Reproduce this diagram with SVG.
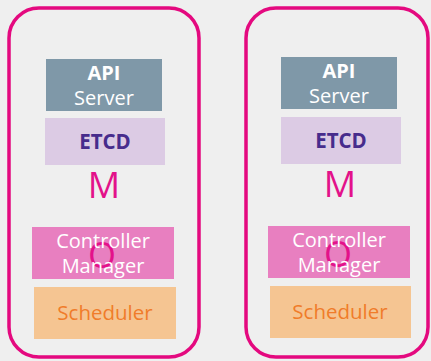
<svg xmlns="http://www.w3.org/2000/svg" width="431" height="361" viewBox="0 0 431 361">
<style>
.bg{fill:#efefef}
.cont{fill:none;stroke:#e4097f;stroke-width:3.5}
.api{fill:#7f98a8}
.etcd{fill:#dccbe4}
.cm{fill:#e87fc0}
.sch{fill:#f5c592}
text{font-family:"Open Sans","Noto Sans",sans-serif;text-anchor:middle}
.w{fill:#ffffff;font-size:20px}
.b{font-weight:bold}
.et{fill:#472c8c;font-size:20.5px;font-weight:bold}
.m{fill:#e3128a;font-size:36px}
.st{fill:#f07c2a;font-size:20.5px}
</style>
<rect class="bg" x="0" y="0" width="431" height="361"/>
<g id="master1">
<rect class="cont" x="9" y="8" width="190" height="349" rx="30"/>
<g id="api1"><rect class="api" x="46" y="59" width="116" height="52"/>
<text class="w b" x="104" y="80">API</text><text class="w" x="104" y="105">Server</text></g>
<g id="etcd1"><rect class="etcd" x="45" y="118" width="120" height="47"/>
<text class="et" x="105" y="149">ETCD</text></g>
<text class="m" x="104" y="198">M</text>
<g id="cm1"><rect class="cm" x="32" y="227" width="142" height="52"/>
<text class="m" x="102" y="268">O</text>
<text class="w" x="103" y="248">Controller</text><text class="w" x="103" y="273">Manager</text></g>
<g id="sch1"><rect class="sch" x="34" y="287" width="142" height="52"/>
<text class="st" x="105" y="320">Scheduler</text></g>
</g>
<g id="master2">
<rect class="cont" x="246" y="8" width="182" height="349" rx="30"/>
<g id="api2"><rect class="api" x="281" y="57" width="116" height="52"/>
<text class="w b" x="339" y="78">API</text><text class="w" x="339" y="103">Server</text></g>
<g id="etcd2"><rect class="etcd" x="281" y="117" width="120" height="47"/>
<text class="et" x="341" y="148">ETCD</text></g>
<text class="m" x="340" y="197">M</text>
<g id="cm2"><rect class="cm" x="268" y="226" width="142" height="52"/>
<text class="m" x="338" y="267">O</text>
<text class="w" x="339" y="247">Controller</text><text class="w" x="339" y="272">Manager</text></g>
<g id="sch2"><rect class="sch" x="270" y="286" width="141" height="52"/>
<text class="st" x="340" y="319">Scheduler</text></g>
</g>
<g id="connectors"/>
</svg>
